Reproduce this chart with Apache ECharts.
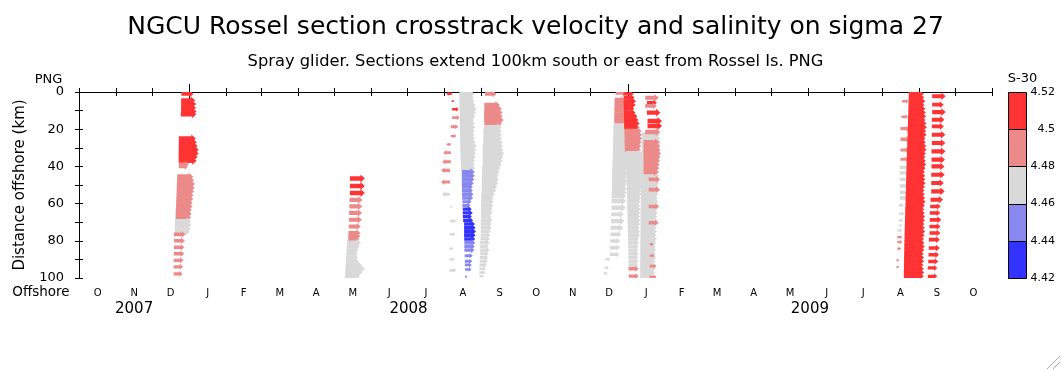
<!DOCTYPE html>
<html><head><meta charset="utf-8">
<script src="https://cdn.jsdelivr.net/npm/echarts@6/dist/echarts.min.js"></script>
<style>html,body{margin:0;padding:0;background:#fff}#c{width:1062px;height:371px}</style>
</head><body><div id="c"></div>
<script>
// ---- labels ----
const TITLE = 'NGCU Rossel section crosstrack velocity and salinity on sigma 27';
const SUBTITLE = 'Spray glider. Sections extend 100km south or east from Rossel Is. PNG';
const MONTH_LABELS = ['O','N','D','J','F','M','A','M','J','J','A','S','O','N','D','J','F','M','A','M','J','J','A','S','O'];
const YEAR_LABELS = ['2007','2008','2009'];
const SAL_LEVELS = [4.42, 4.44, 4.46, 4.48, 4.50, 4.52];
const SAL_COLORS = ['#3333ff', '#8888ee', '#d9d9d9', '#ec8a8a', '#ff3333'];
// arrow scale: px per (cm/s)
const SCALE = 0.5;

// ---- data: day = days since 2007-10-01, km = distance offshore, u = crosstrack velocity (cm/s), s = salinity-30 ----
// Section A (Dec 2007)
const A_km  = [1,4.5,6.5,8.5,10.5,12, 25,27,29,31,33,35,37, 38.8,40.2, 45.5,47.5,49.5,51.5,53.5,55.5,57.5,59.5,61.5,63.5,65.5,67.5, 69.5,71.5,73.5,75.2, 76.5,80,83.5,87,90.5,94,97.8];
const A_day = [85.5,85.3,85.3,85.2,85.2,85.0, 83.3,83.3,83.3,83.3,83.2,83.2,83.2, 83.3,83.3, 82.0,81.9,81.7,81.6,81.5,81.4,81.2,81.1,81.0,80.8,80.7,80.6, 80.0,80.0,80.0,80.0, 79.2,79.2,79.1,79.1,79.0,79.0,79.0];
const A_u   = [24,28,30,30,31,31, 34,36,38,40,40,38,36, 20,18, 32,34,36,36,35,34,34,33,33,32,32,31, 33,33,32,30, 23,22,21,21,20,19,18];
const A_s   = [4.51,4.51,4.51,4.51,4.51,4.51, 4.51,4.51,4.51,4.51,4.51,4.51,4.51, 4.49,4.49, 4.49,4.49,4.49,4.49,4.49,4.49,4.49,4.49,4.49,4.49,4.49,4.49, 4.47,4.47,4.47,4.47, 4.49,4.49,4.49,4.49,4.49,4.49,4.49];
// Section B (May 2008)
const B_km  = [46.5,50.5,54.3, 58,61.5,65,68.7,72.3,75.8,77.6,79.2, 81,83,85,87,89,91,93,95,97,99];
const B_day = [226.1,226.1,226.1, 225.8,225.6,225.4,225.3,225.1,224.9,224.8,224.7, 223.7,223.5,223.3,223.1,222.9,222.8,222.6,222.4,222.2,222.0];
const B_u   = [30,30,30, 26,26,26,26,24,24,24,22, 28,26,24,23,24,26,32,39,34,30];
const B_s   = [4.51,4.51,4.51, 4.49,4.49,4.49,4.49,4.49,4.49,4.49,4.49, 4.47,4.47,4.47,4.47,4.47,4.47,4.47,4.47,4.47,4.47];
// Section C (Aug-Sep 2008), three passes
const C1_km  = [0.9,4.9,9.3,13.8,18.7,23.7,28.2,32.6,37.5,42.1,48.4,55,61.7,69.4,76.5,84.2,90,95.9];
const C1_day = [311.1,311.1,311.4,311.4,310.3,310.3,310.3,310.3,310.3,309.7,309.7,309.7,309.7,309.7,309.1,309.1,309.1,309.1];
const C1_u   = [-11,4,13,15,15,11,-9,-15,-17,-18,-18,-16,5,12,12,8,11,14];
const C1_s   = [4.51,4.51,4.51,4.49,4.49,4.49,4.49,4.49,4.49,4.49,4.49,4.47,4.47,4.47,4.47,4.47,4.47,4.47];
const C2_km  = [1,3,5,7,9,11,13,15,17,19,21,23,25,27,29,31,33,35,37,39,41, 43,45,47,49,51,53,55,57, 59,61, 63,65,67,69, 71,73,75,77,79, 81,83,85,88,91,93,95.4,99.3];
const C2_day = [317.5,317.5,317.6,317.6,317.7,317.7,317.8,317.8,317.9,317.9,318.0,318.0,318.1,318.2,318.2,318.3,318.4,318.5,318.6,318.7,318.8, 319.5,319.5,319.5,319.5,319.6,319.6,319.7,319.8, 320.0,320.0, 320.3,320.3,320.4,320.6, 321.4,321.4,321.4,321.4,321.5, 321.6,321.6,321.7,321.9,322.0,322.0,322.1,322.2];
const C2_u   = [30,29,30,32,34,33,31,29,30,31,30,29,30,31,33,32,31,30,29,28,29, 26,26,25,24,22,22,23,22, 18,16, 18,20,18,20, 22,23,24,23,22, 22,21,20,16,15,14,13,4];
const C2_s   = [4.47,4.47,4.47,4.47,4.47,4.47,4.47,4.47,4.47,4.47,4.47,4.47,4.47,4.47,4.47,4.47,4.47,4.47,4.47,4.47,4.47, 4.45,4.45,4.45,4.45,4.45,4.45,4.45,4.45, 4.45,4.45, 4.43,4.43,4.43,4.43, 4.43,4.43,4.43,4.43,4.43, 4.45,4.45,4.45,4.45,4.45,4.45,4.45,4.45];
const C3_km  = [1, 7,9,11,13,15,17, 19,21,23,25,27,29,31,33,35,37,39,41,43,45,47,49,51,53,55,57,59,61,63,65,67,69,71,73,75,77,79,81,83,85,87,89,91,93,95,97,99];
const C3_day = [338.9, 338.3,338.3,338.1,338.1,338.1,338.3, 338.1,337.5,337.5,337.5,337.5,337.0,337.0,337.0,337.0,337.0,337.0,336.4,336.4,336.4,336.2,336.2,336.2,336.2,335.8,335.8,335.6,335.6,335.6,335.6,335.6,335.3,335.3,335.3,335.3,335.3,335.0,334.8,334.8,334.8,334.8,334.5,334.5,334.2,334.2,334.2,334.2];
const C3_u   = [23, 31,35,37,37,39,35, 35,37,37,37,39,40,41,43,41,40,38,37,35,33,34,33,31,29,27,25,25,25,23,23,21,24,22,22,20,19,19,19,17,19,17,17,16,15,13,12,9];
const C3_s   = [4.49, 4.49,4.49,4.49,4.49,4.49,4.49, 4.47,4.47,4.47,4.47,4.47,4.47,4.47,4.47,4.47,4.47,4.47,4.47,4.47,4.47,4.47,4.47,4.47,4.47,4.47,4.47,4.47,4.47,4.47,4.47,4.47,4.47,4.47,4.47,4.47,4.47,4.47,4.47,4.47,4.47,4.47,4.47,4.47,4.47,4.47,4.47,4.47];
// Section D (Dec 2008 - Jan 2009)
const D1_km  = [0.5,4,6,8,10,12,14,16, 18,20,22,24,26,28,30,32,34,36,38,40,42,44,46,48,50,52,54,56, 58.6,62.2,65.8,69.4,73,76.5,80.1,83.7,87.3, 90,94.5,97.5];
const D1_day = [447.9,447.0,446.9,446.9,446.8,446.8,446.7,446.7, 446.1,446.0,446.0,445.9,445.8,445.7,445.6,445.6,445.5,445.4,445.3,445.2,445.1,445.0,445.0,444.9,444.8,444.8,444.7,444.6, 444.5,444.3,444.2,444.0,443.8,443.6,443.4,443.2,443.0, 439.2,438.5,437.8];
const D1_u   = [22,20,28,28,28,28,28,28, 32,32,33,32,34,33,32,34,33,32,31,32,30,31,30,31,29,30,30,29, 29,29,25,27,25,22,20,20,19, 10,9,8];
const D1_s   = [4.49,4.49,4.49,4.49,4.49,4.49,4.49,4.49, 4.47,4.47,4.47,4.47,4.47,4.47,4.47,4.47,4.47,4.47,4.47,4.47,4.47,4.47,4.47,4.47,4.47,4.47,4.47,4.47, 4.47,4.47,4.47,4.47,4.47,4.47,4.47,4.47,4.47, 4.47,4.47,4.47];
const D2_km  = [1,3,5,7,9,11,13,15,17,19, 21,23,25,27,29,31, 33,35,37,39,41,43,45,47,49,51,53,55,57,59,61,63,65,67,69,71,73,75,77,79,81,83,85,87,89,91,93, 95,99];
const D2_day = [454.5,454.5,454.5,454.6,454.7,454.8,454.8,454.9,455.0,455.0, 455.3,455.3,455.4,455.4,455.5,455.6, 456.5,456.5,456.6,456.7,456.8,456.9,456.9,457.0,457.1,457.2,457.3,457.3,457.4,457.5,457.6,457.7,457.7,457.8,457.9,458.0,458.0,458.1,458.2,458.2,458.3,458.4,458.4,458.5,458.5,458.6,458.6, 458.7,458.8];
const D2_u   = [20,22,25,24,21,23,27,29,31,30, 34,35,35,34,33,32, 34,35,34,33,34,33,32,33,32,31,30,30,28,27,26,27,26,25,26,25,24,25,24,22,22,21,20,21,20,20,19, 20,20];
const D2_s   = [4.51,4.51,4.51,4.51,4.51,4.51,4.51,4.51,4.51,4.51, 4.49,4.49,4.49,4.49,4.49,4.49, 4.47,4.47,4.47,4.47,4.47,4.47,4.47,4.47,4.47,4.47,4.47,4.47,4.47,4.47,4.47,4.47,4.47,4.47,4.47,4.47,4.47,4.47,4.47,4.47,4.47,4.47,4.47,4.47,4.47,4.47,4.47, 4.49,4.49];
const D3g_km  = [23,25,27,29,31,33,35,37,39,41,43,45,47,49,51,53,55,57,59,61,63,65,67,69,71,73,75,77,79,81,83,85,87,89,91,93,95,97,99];
const D3g_day = [469.8,469.8,469.7,469.7,469.6,469.6,469.5,469.5,469.4,469.4,469.3,469.3,469.2,469.2,469.1,469.1,469.0,469.0,468.9,468.9,468.9,468.8,468.8,468.8,468.7,468.7,468.7,468.6,468.6,468.6,468.5,468.5,468.5,468.5,468.4,468.4,468.4,468.4,468.4];
const D3g_u   = [36,37,38,38,37,38,37,36,37,36,37,36,35,36,35,34,35,34,35,34,33,34,33,34,33,32,33,32,33,32,31,32,31,32,31,30,31,30,30];
const D3g_s   = [4.47,4.47,4.47,4.47,4.47,4.47,4.47,4.47,4.47,4.47,4.47,4.47,4.47,4.47,4.47,4.47,4.47,4.47,4.47,4.47,4.47,4.47,4.47,4.47,4.47,4.47,4.47,4.47,4.47,4.47,4.47,4.47,4.47,4.47,4.47,4.47,4.47,4.47,4.47];
const D3p_km  = [3.1,5.8,7.5,11.1,15.6,18.3,21.5, 27,29,31,33,35,37,39,41,43, 47,52.5,61.5,70.3,81.9,88,93.6,99.5];
const D3p_day = [472.6,474.0,472.6,474.0,474.5,474.5,472.6, 471.2,471.2,471.2,471.2,471.2,471.2,471.2,471.2,471.2, 475.4,475.4,475.4,475.4,476.2,476.2,476.2,476.2];
const D3p_u   = [27,20,23,27,29,29,30, 32,33,34,35,34,33,32,31,30, 23,23,21,20,8,10,14,14];
const D3p_s   = [4.49,4.51,4.49,4.51,4.51,4.51,4.49, 4.49,4.49,4.49,4.49,4.49,4.49,4.49,4.49,4.49, 4.49,4.49,4.49,4.49,4.49,4.49,4.49,4.49];
// Section E (Aug-Sep 2009)
const E1_km  = [5,13.3,19.7,25.4,31.2,36.2, 40.5,43.5,47,50.5,54,57, 60.9,65.4,69,71.7,74.4, 78,80.7,84.2,90.5,94];
const E1_day = [687.0,686.5,685.6,685.6,685.6,685.6, 685.0,685.0,685.0,685.0,685.0,685.0, 684.2,684.2,684.2,684.2,682.9, 682.9,682.9,682.9,682.2,682.2];
const E1_u   = [13,13,19,19,17,17, 20,20,20,20,20,20, 10,11,9,7,10, 10,10,8,6,6];
const E1_s   = [4.49,4.49,4.49,4.49,4.49,4.49, 4.47,4.47,4.47,4.47,4.47,4.47, 4.47,4.47,4.47,4.47,4.47, 4.49,4.49,4.49,4.49,4.49];
const E2_km  = [1,3,5,7,9,11,13,15,17,19,21,23,25,27,29,31,33,35,37,39,41,43,45,47,49,51,53,55,57,59,61,63,65,67,69,71,73,75,77,79,81,83,85,87,89,91,93,95,97,99];
const E2_day = [692.6,692.5,692.5,692.3,692.2,692.2,692.0,691.9,691.9,691.8,691.6,691.6,691.5,691.3,691.3,691.2,691.0,691.0,690.9,690.8,690.7,690.6,690.5,690.5,690.3,690.2,690.2,690.0,689.9,689.9,689.8,689.6,689.6,689.5,689.4,689.3,689.2,689.1,689.1,689.0,688.9,688.8,688.8,688.7,688.6,688.6,688.5,688.5,688.4,688.4];
const E2_u   = [30,31,33,32,34,35,36,35,37,38,37,38,36,37,38,39,38,37,38,39,38,37,38,38,39,38,37,38,39,40,39,38,39,40,40,39,40,41,40,39,40,41,40,39,40,40,39,40,41,40];
const E2_s   = [4.51,4.51,4.51,4.51,4.51,4.51,4.51,4.51,4.51,4.51,4.51,4.51,4.51,4.51,4.51,4.51,4.51,4.51,4.51,4.51,4.51,4.51,4.51,4.51,4.51,4.51,4.51,4.51,4.51,4.51,4.51,4.51,4.51,4.51,4.51,4.51,4.51,4.51,4.51,4.51,4.51,4.51,4.51,4.51,4.51,4.51,4.51,4.51,4.51,4.51];
const E3_km  = [2.3,6.8,10.8,14.9,18.5,23,27.4,31.9,36.4,40,44.5,48.9,53.4,57.9,61.5,65,68.7,72.3,75.8,79.4,83.9,87.5,91.1,94.6,99.1];
const E3_day = [712.1,712.1,712.1,711.8,711.8,711.8,711.8,711.5,711.5,711.5,711.3,711.3,711.3,710.7,710.4,710.1,710.1,709.8,709.8,709.3,709.3,709.0,708.8,708.4,708.4];
const E3_u   = [27,23,27,25,24,27,27,28,27,26,27,25,27,25,21,21,23,22,22,22,22,21,20,19,19];
const E3_s   = [4.51,4.51,4.51,4.51,4.51,4.51,4.51,4.51,4.51,4.51,4.51,4.51,4.51,4.51,4.51,4.51,4.51,4.51,4.51,4.51,4.51,4.51,4.51,4.51,4.51];

const PASSES = [
  [A_km, A_day, A_u, A_s], [B_km, B_day, B_u, B_s],
  [C1_km, C1_day, C1_u, C1_s], [C2_km, C2_day, C2_u, C2_s], [C3_km, C3_day, C3_u, C3_s],
  [D1_km, D1_day, D1_u, D1_s], [D2_km, D2_day, D2_u, D2_s], [D3g_km, D3g_day, D3g_u, D3g_s], [D3p_km, D3p_day, D3p_u, D3p_s],
  [E1_km, E1_day, E1_u, E1_s], [E2_km, E2_day, E2_u, E2_s], [E3_km, E3_day, E3_u, E3_s]
];

// ---- calendar ticks ----
const T0 = Date.UTC(2007, 9, 1);
const dayOf = (y, m) => Math.round((Date.UTC(y, m, 1) - T0) / 864e5);
const monthStarts = [];
for (let m = 0; m <= MONTH_LABELS.length; m++) monthStarts.push(dayOf(2007, 9 + m));
const monthMids = MONTH_LABELS.map((_, i) => (monthStarts[i] + monthStarts[i + 1]) / 2);
const XMAX = monthStarts[monthStarts.length - 1];
const yearBounds = [0, dayOf(2008, 0), dayOf(2009, 0), XMAX];
const yearMids = YEAR_LABELS.map((_, i) => (yearBounds[i] + yearBounds[i + 1]) / 2);
const lookup = (vals, labels) => v => { for (let i = 0; i < vals.length; i++) if (Math.abs(vals[i] - v) < 0.01) return labels[i]; return ''; };

function salColor(s) {
  for (let i = 0; i < SAL_COLORS.length; i++) if (s < SAL_LEVELS[i + 1]) return SAL_COLORS[i];
  return SAL_COLORS[SAL_COLORS.length - 1];
}
function arrowPoints(x0, y0, L) {
  const a = Math.abs(L), d = L < 0 ? -1 : 1;
  if (a < 3) { const t = 0.9; return [[x0, y0 - t], [x0 + d * Math.max(a, 1.5), y0 - t], [x0 + d * Math.max(a, 1.5), y0 + t], [x0, y0 + t]]; }
  const t = Math.min(2.3, 0.6 + 0.11 * a);
  const hh = Math.min(4.0, 1.0 + 0.21 * a);
  const hl = Math.min(4.5, 1 + 0.25 * a);
  const xb = x0 + d * (a - hl), xt = x0 + d * a;
  return [[x0, y0 - t], [xb, y0 - t], [xb, y0 - hh], [xt, y0], [xb, y0 + hh], [xb, y0 + t], [x0, y0 + t]];
}
const arrowSeries = PASSES.map(([km, day, u, s]) => ({
  type: 'custom', xAxisIndex: 0, yAxisIndex: 0, clip: true, silent: true,
  data: km.map((k, i) => [day[i], k, u[i], s[i]]),
  renderItem: (params, api) => {
    const p = api.coord([api.value(0), api.value(1)]);
    return { type: 'polygon', shape: { points: arrowPoints(p[0], p[1], api.value(2) * SCALE) },
             style: { fill: salColor(api.value(3)) } };
  }
}));
const colorbarSeries = {
  type: 'custom', xAxisIndex: 4, yAxisIndex: 2, silent: true,
  data: SAL_COLORS.map((c, i) => [SAL_LEVELS[i], SAL_LEVELS[i + 1], i]),
  renderItem: (params, api) => {
    const p1 = api.coord([0, api.value(1)]), p2 = api.coord([1, api.value(0)]);
    const x1 = Math.round(p1[0]), y1 = Math.round(p1[1]), x2 = Math.round(p2[0]), y2 = Math.round(p2[1]);
    return { type: 'rect', shape: { x: x1 + 0.5, y: y1 + 0.5, width: x2 - x1, height: y2 - y1 },
             style: { fill: SAL_COLORS[api.value(2)], stroke: '#000', lineWidth: 1 } };
  }
};

const FONT = 'DejaVu Sans';
const black = { color: '#000', width: 1 };
const txt = (x, y, text, size, align) => ({ type: 'text', x, y, silent: true,
  style: { text, fontSize: size, fontFamily: FONT, fill: '#000', align: align || 'center', verticalAlign: 'middle' } });

const chart = echarts.init(document.getElementById('c'), null, { renderer: 'canvas' });
chart.setOption({
  animation: false,
  backgroundColor: '#fff',
  textStyle: { fontFamily: FONT, color: '#000' },
  grid: [
    { left: 79, top: 92, width: 913, height: 186 },
    { left: 1008, top: 92, width: 18, height: 186 }
  ],
  xAxis: [
    { gridIndex: 0, type: 'value', min: 0, max: XMAX, position: 'bottom',
      axisLine: { lineStyle: black }, axisTick: { customValues: monthStarts, length: 4, lineStyle: black },
      axisLabel: { customValues: monthMids, formatter: lookup(monthMids, MONTH_LABELS), fontSize: 10, color: '#000', margin: 10, fontFamily: FONT },
      splitLine: { show: false } },
    { gridIndex: 0, type: 'value', min: 0, max: XMAX, position: 'bottom',
      axisLine: { show: false }, axisTick: { customValues: [yearBounds[1], yearBounds[2]], length: 7, lineStyle: black },
      axisLabel: { customValues: yearMids, formatter: lookup(yearMids, YEAR_LABELS), fontSize: 15, color: '#000', margin: 24, fontFamily: FONT },
      splitLine: { show: false } },
    { gridIndex: 0, type: 'value', min: 0, max: XMAX, position: 'top',
      axisLine: { lineStyle: black }, axisTick: { customValues: monthStarts, length: 4, lineStyle: black },
      axisLabel: { show: false }, splitLine: { show: false } },
    { gridIndex: 0, type: 'value', min: 0, max: XMAX, position: 'top',
      axisLine: { show: false }, axisTick: { customValues: [yearBounds[1], yearBounds[2]], length: 8, lineStyle: black },
      axisLabel: { show: false }, splitLine: { show: false } },
    { gridIndex: 1, type: 'value', min: 0, max: 1, show: false }
  ],
  yAxis: [
    { gridIndex: 0, type: 'value', inverse: true, min: 0, max: 100, interval: 20, position: 'left',
      axisLine: { show: true, lineStyle: black }, axisTick: { show: true, length: 4, lineStyle: black },
      minorTick: { show: true, splitNumber: 2, length: 4, lineStyle: black },
      axisLabel: { fontSize: 13, color: '#000', margin: 15, fontFamily: FONT },
      name: 'Distance offshore (km)', nameLocation: 'middle', nameGap: 51,
      nameTextStyle: { fontSize: 15, color: '#000', fontFamily: FONT },
      splitLine: { show: false } },
    { gridIndex: 0, type: 'value', inverse: true, min: 0, max: 100, interval: 10, position: 'right',
      axisLine: { show: true, lineStyle: black }, axisTick: { show: true, length: 4, lineStyle: black },
      axisLabel: { show: false }, splitLine: { show: false } },
    { gridIndex: 1, type: 'value', min: 4.42, max: 4.52, interval: 0.02, position: 'right',
      axisLine: { show: false }, axisTick: { show: false },
      axisLabel: { formatter: v => String(+v.toFixed(2)), align: 'right', margin: 29, fontSize: 11, color: '#000', fontFamily: FONT },
      splitLine: { show: false } }
  ],
  graphic: [
    txt(535.5, 27, TITLE, 25),
    txt(535.5, 62, SUBTITLE, 16.3),
    txt(48.5, 79.5, 'PNG', 13),
    txt(41, 292, 'Offshore', 13.5),
    txt(1022.5, 79, 'S-30', 13),
    { type: 'line', silent: true, shape: { x1: 1047, y1: 369, x2: 1060, y2: 356 }, style: { stroke: '#aaa', lineWidth: 1 } },
    { type: 'line', silent: true, shape: { x1: 1053, y1: 369, x2: 1060, y2: 362 }, style: { stroke: '#aaa', lineWidth: 1 } }
  ],
  series: arrowSeries.concat([colorbarSeries])
});
</script></body></html>
